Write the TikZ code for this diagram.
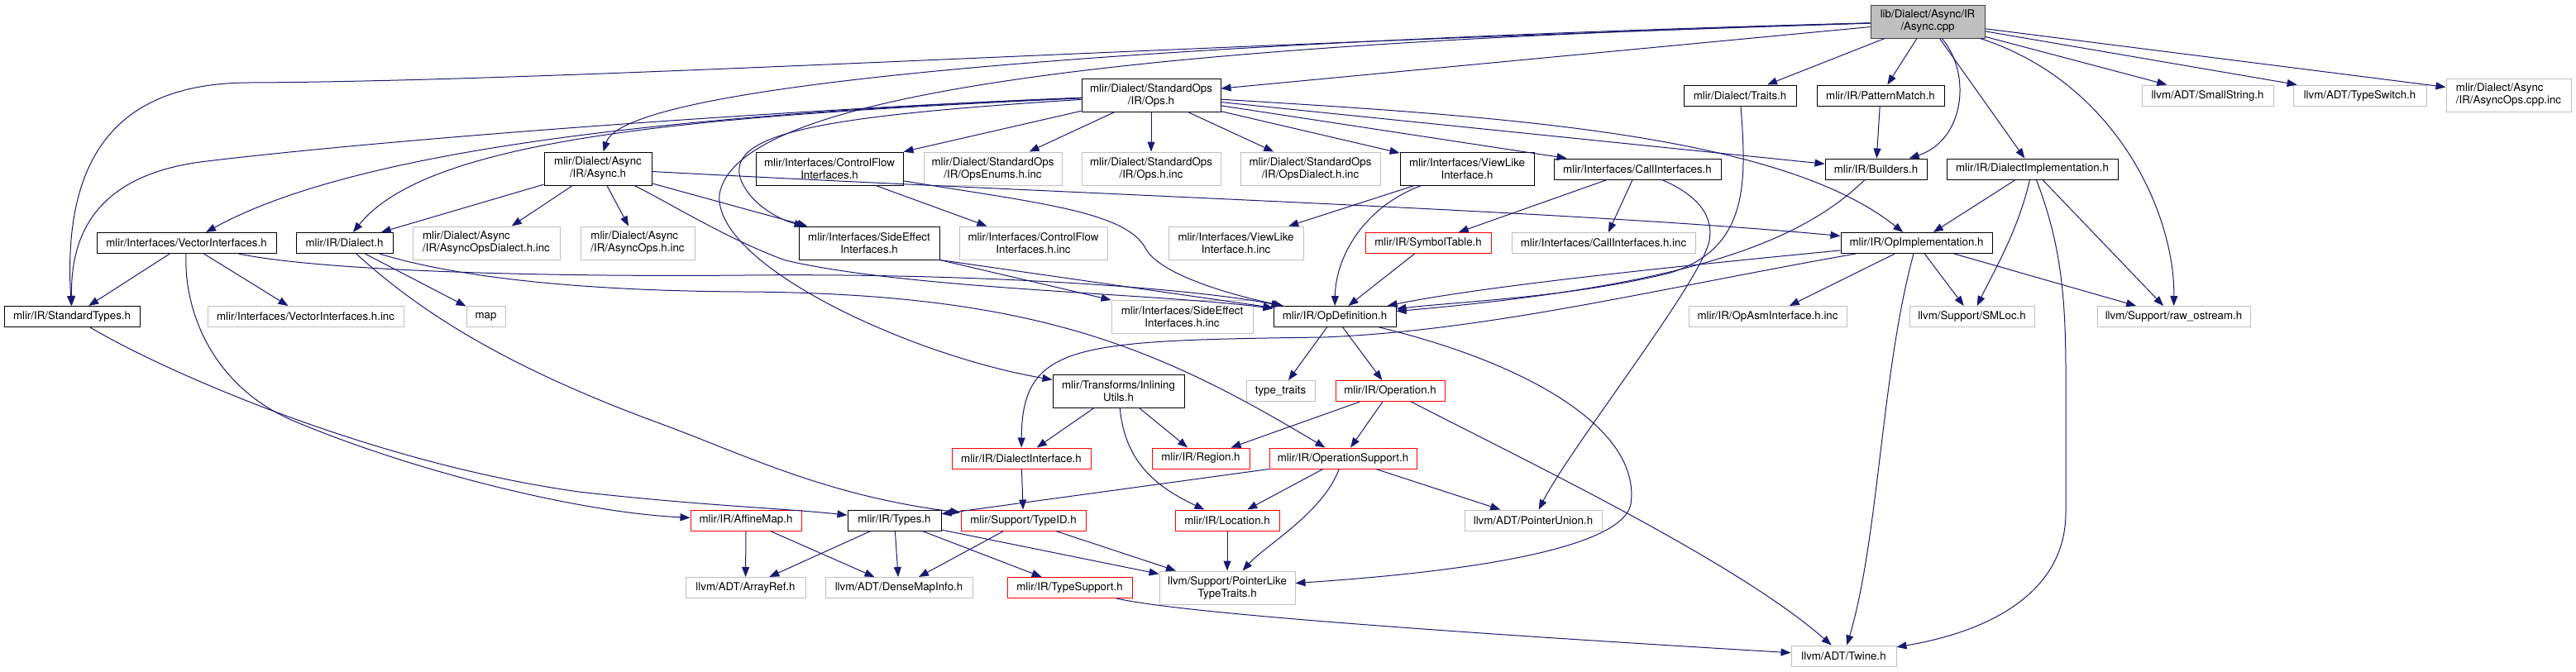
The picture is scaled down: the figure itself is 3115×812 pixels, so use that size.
\documentclass[tikz,border=0pt]{standalone}
\usepackage{fontspec}
\setmainfont{TeX Gyre Heros}
\usepackage{xcolor}
\usepackage{tikz}
\usetikzlibrary{arrows.meta}

\definecolor{edgeblue}{HTML}{191970}
\definecolor{extgrey}{HTML}{BFBFBF}
\definecolor{curline}{HTML}{404040}

\begin{document}
\begin{tikzpicture}[
  x=1pt, y=-1pt,
  hdr/.style={draw=black, fill=white, line width=1pt, inner sep=0pt, minimum height=25pt, align=center, font=\fontsize{13.3}{15}\selectfont},
  ext/.style={hdr, draw=extgrey},
  trunc/.style={hdr, draw=red},
  cur/.style={hdr, fill=extgrey, draw=curline},
  twol/.style={minimum height=40pt},
  inc/.style={draw=edgeblue, line width=1pt, -{Triangle[length=12pt,width=9pt]}}
]
  \useasboundingbox (0,0) rectangle (3115,812);

  % the file itself
  \node[cur, twol, minimum width=138pt] (root) at (2331,26) {lib/Dialect/Async/IR\\/Async.cpp};

  % direct includes
  \node[hdr, twol, minimum width=168pt] (ops) at (1392,115) {mlir/Dialect/StandardOps\\/IR/Ops.h};
  \node[hdr, minimum width=136pt] (traits) at (2104,115.5) {mlir/Dialect/Traits.h};
  \node[hdr, minimum width=154pt] (patmatch) at (2274,115.5) {mlir/IR/PatternMatch.h};
  \node[ext, minimum width=159pt] (smallstr) at (2669.5,115.5) {llvm/ADT/SmallString.h};
  \node[ext, minimum width=161pt] (typeswitch) at (2853.5,115.5) {llvm/ADT/TypeSwitch.h};
  \node[ext, twol, align=left, minimum width=151pt] (opscppinc) at (3033.5,115) {mlir/Dialect/Async\\/IR/AsyncOps.cpp.inc};

  % second rank
  \node[hdr, twol, minimum width=130pt] (asynch) at (723,204) {mlir/Dialect/Async\\/IR/Async.h};
  \node[hdr, twol, minimum width=178pt] (cfi) at (1003,204) {mlir/Interfaces/ControlFlow\\Interfaces.h};
  \node[ext, twol, minimum width=167pt] (opsenums) at (1200.5,204) {mlir/Dialect/StandardOps\\/IR/OpsEnums.h.inc};
  \node[ext, twol, minimum width=168pt] (opsinc) at (1392,204) {mlir/Dialect/StandardOps\\/IR/Ops.h.inc};
  \node[ext, twol, minimum width=169pt] (opsdialinc) at (1584.5,204) {mlir/Dialect/StandardOps\\/IR/OpsDialect.h.inc};
  \node[hdr, twol, minimum width=162pt] (viewlike) at (1774,204) {mlir/Interfaces/ViewLike\\Interface.h};
  \node[hdr, minimum width=202pt] (callif) at (1980,204.5) {mlir/Interfaces/CallInterfaces.h};
  \node[hdr, minimum width=123pt] (builders) at (2268.5,204.5) {mlir/IR/Builders.h};
  \node[hdr, minimum width=207pt] (dialimpl) at (2457.5,204.5) {mlir/IR/DialectImplementation.h};

  % third rank
  \node[hdr, minimum width=217pt] (vecif) at (225.5,294) {mlir/Interfaces/VectorInterfaces.h};
  \node[hdr, minimum width=117pt] (dialect) at (416.5,294) {mlir/IR/Dialect.h};
  \node[ext, twol, align=left, minimum width=178pt] (asyncdialinc) at (588,294) {mlir/Dialect/Async\\/IR/AsyncOpsDialect.h.inc};
  \node[ext, twol, align=left, minimum width=138pt] (asyncopsinc) at (771,294) {mlir/Dialect/Async\\/IR/AsyncOps.h.inc};
  \node[hdr, twol, minimum width=170pt] (sideeffect) at (1051,294) {mlir/Interfaces/SideEffect\\Interfaces.h};
  \node[ext, twol, minimum width=179pt] (cfiinc) at (1249.5,294) {mlir/Interfaces/ControlFlow\\Interfaces.h.inc};
  \node[ext, twol, minimum width=163pt] (viewlikeinc) at (1494.5,294) {mlir/Interfaces/ViewLike\\Interface.h.inc};
  \node[trunc, minimum width=152pt] (symtab) at (1727,294) {mlir/IR/SymbolTable.h};
  \node[ext, minimum width=222pt] (callifinc) at (1939,294) {mlir/Interfaces/CallInterfaces.h.inc};
  \node[hdr, minimum width=183pt] (opimpl) at (2317.5,294) {mlir/IR/OpImplementation.h};

  % fourth rank
  \node[hdr, minimum width=164pt] (stdtypes) at (87,383) {mlir/IR/StandardTypes.h};
  \node[ext, minimum width=237pt] (vecifinc) at (369.5,383) {mlir/Interfaces/VectorInterfaces.h.inc};
  \node[ext, minimum width=47pt] (map) at (587.5,383) {map};
  \node[ext, twol, minimum width=171pt] (sideeffectinc) at (1429.5,383) {mlir/Interfaces/SideEffect\\Interfaces.h.inc};
  \node[hdr, minimum width=148pt] (opdef) at (1614,383) {mlir/IR/OpDefinition.h};
  \node[ext, minimum width=191pt] (opasminc) at (2137.5,383) {mlir/IR/OpAsmInterface.h.inc};
  \node[ext, minimum width=151pt] (smloc) at (2384.5,383) {llvm/Support/SMLoc.h};
  \node[ext, minimum width=185pt] (rawos) at (2628.5,383) {llvm/Support/raw\_ostream.h};

  % lower ranks
  \node[hdr, twol, minimum width=159pt] (inlining) at (1352.5,473) {mlir/Transforms/Inlining\\Utils.h};
  \node[ext, minimum width=83pt] (typetraits) at (1548.5,473) {type\_traits};
  \node[trunc, minimum width=132pt] (operation) at (1681,473) {mlir/IR/Operation.h};

  \node[trunc, minimum width=168pt] (dialiface) at (1235,554.5) {mlir/IR/DialectInterface.h};
  \node[trunc, minimum width=118pt] (region) at (1452,554.5) {mlir/IR/Region.h};
  \node[trunc, minimum width=178pt] (opsupport) at (1624,554.5) {mlir/IR/OperationSupport.h};

  \node[trunc, minimum width=134pt] (affinemap) at (902,629.5) {mlir/IR/AffineMap.h};
  \node[hdr, minimum width=113pt] (types) at (1081.5,629.5) {mlir/IR/Types.h};
  \node[trunc, minimum width=151pt] (typeid) at (1237.5,629.5) {mlir/Support/TypeID.h};
  \node[trunc, minimum width=126pt] (location) at (1484,629.5) {mlir/IR/Location.h};
  \node[ext, minimum width=166pt] (ptrunion) at (1854,629.5) {llvm/ADT/PointerUnion.h};

  \node[ext, minimum width=145pt] (arrayref) at (901.5,711) {llvm/ADT/ArrayRef.h};
  \node[ext, minimum width=178pt] (densemap) at (1087,711) {llvm/ADT/DenseMapInfo.h};
  \node[trunc, minimum width=151pt] (typesupport) at (1293.5,711) {mlir/IR/TypeSupport.h};
  \node[ext, twol, minimum width=164pt] (ptrlike) at (1484,711) {llvm/Support/PointerLike\\TypeTraits.h};

  \node[ext, minimum width=127pt] (twine) at (2229.5,793.5) {llvm/ADT/Twine.h};

  % straight includes
  \foreach \a/\b in {root/ops, root/traits, root/patmatch, root/dialimpl, root/smallstr, root/typeswitch, root/opscppinc,
      ops/cfi, ops/opsenums, ops/opsinc, ops/opsdialinc, ops/viewlike, ops/callif, ops/builders, patmatch/builders,
      asynch/dialect, asynch/asyncdialinc, asynch/asyncopsinc, asynch/sideeffect, cfi/cfiinc,
      sideeffect.south east/opdef, sideeffect.south east/sideeffectinc, vecif/stdtypes, vecif/vecifinc, dialect/map,
      viewlike/viewlikeinc, callif/symtab, callif/callifinc, symtab/opdef, dialimpl/opimpl, dialimpl/rawos,
      opimpl/opasminc, opimpl/smloc, opimpl/rawos, opdef/typetraits, opdef/operation,
      operation/region, operation/opsupport, inlining/dialiface, inlining/region, dialiface/typeid,
      opsupport.south west/types, opsupport/location, opsupport/ptrunion, affinemap/arrayref, affinemap/densemap,
      types/arrayref, types/densemap, types/typesupport, types/ptrlike, typeid/densemap, typeid/ptrlike, location/ptrlike} {
    \draw[inc] (\a) -- (\b);
  }

  % curved includes from the file
  \draw[inc] (root) .. controls (1600,45) and (760,88) .. (asynch);
  \draw[inc] (root) .. controls (1400,55) and (700,98) .. (300,100) .. controls (150,101) and (75,180) .. (stdtypes);
  \draw[inc] (root) .. controls (1300,55) and (890,120) .. (870,235) .. controls (862,320) and (1100,430) .. (inlining);
  \draw[inc] (root) .. controls (2385,90) and (2375,170) .. (builders);
  \draw[inc] (root) .. controls (2560,100) and (2630,260) .. (rawos);

  % curved includes from Ops.h and Async.h
  \draw[inc] (ops) .. controls (1000,130) and (500,165) .. (250,195) .. controls (120,210) and (85,280) .. (stdtypes);
  \draw[inc] (ops) .. controls (900,135) and (450,170) .. (vecif);
  \draw[inc] (ops) .. controls (850,140) and (520,165) .. (dialect);
  \draw[inc] (ops) .. controls (1000,140) and (880,160) .. (895,215) .. controls (905,245) and (940,265) .. (sideeffect);
  \draw[inc] (ops) .. controls (1800,140) and (2150,160) .. (opimpl);
  \draw[inc] (asynch) .. controls (1300,235) and (1900,255) .. (opimpl);
  \draw[inc] (asynch) .. controls (800,240) and (880,290) .. (950,315) .. controls (1100,350) and (1400,355) .. (opdef);

  % curved includes of the middle ranks
  \draw[inc] (cfi) .. controls (1250,245) and (1360,255) .. (1385,300) .. controls (1400,330) and (1480,355) .. (opdef);
  \draw[inc] (vecif) .. controls (222,380) and (260,470) .. (357,510) .. controls (500,570) and (700,620) .. (affinemap);
  \draw[inc] (vecif) .. controls (400,330) and (700,335) .. (900,333) .. controls (1200,330) and (1450,350) .. (opdef);
  \draw[inc] (dialect) .. controls (500,370) and (600,440) .. (800,513) .. controls (900,550) and (1000,600) .. (typeid);
  \draw[inc] (dialect) .. controls (550,335) and (700,352) .. (900,353) .. controls (1250,355) and (1400,420) .. (opsupport);
  \draw[inc] (viewlike) .. controls (1650,250) and (1615,310) .. (opdef);
  \draw[inc] (callif) .. controls (2050,235) and (2075,260) .. (2066,295) .. controls (2050,350) and (1900,540) .. (ptrunion);
  \draw[inc] (builders) .. controls (2180,290) and (2050,345) .. (opdef);
  \draw[inc] (traits) .. controls (2112,220) and (2115,300) .. (2020,330) .. controls (1900,360) and (1760,365) .. (opdef);
  \draw[inc] (opimpl) .. controls (2050,320) and (1800,345) .. (opdef);
  \draw[inc] (opimpl) .. controls (2000,350) and (1800,400) .. (1600,408) .. controls (1300,412) and (1236,415) .. (dialiface);
  \draw[inc] (opimpl) .. controls (2275,450) and (2272,650) .. (twine);
  \draw[inc] (dialimpl) .. controls (2440,280) and (2410,330) .. (smloc);
  \draw[inc] (dialimpl) .. controls (2490,290) and (2498,350) .. (2498,450) -- (2498,620) .. controls (2498,720) and (2400,765) .. (twine);

  % curved includes of the lower ranks
  \draw[inc] (opdef) .. controls (1850,440) and (1985,520) .. (1972,610) .. controls (1962,660) and (1800,690) .. (ptrlike);
  \draw[inc] (operation) .. controls (1850,560) and (2100,680) .. (twine);
  \draw[inc] (inlining) .. controls (1360,560) and (1400,590) .. (location);
  \draw[inc] (opsupport) .. controls (1600,620) and (1530,660) .. (ptrlike);
  \draw[inc] (typesupport) .. controls (1420,740) and (1700,762) .. (twine);
  \draw[inc] (stdtypes) .. controls (200,450) and (450,560) .. (700,595) .. controls (850,612) and (950,615) .. (types);
\end{tikzpicture}
\end{document}
